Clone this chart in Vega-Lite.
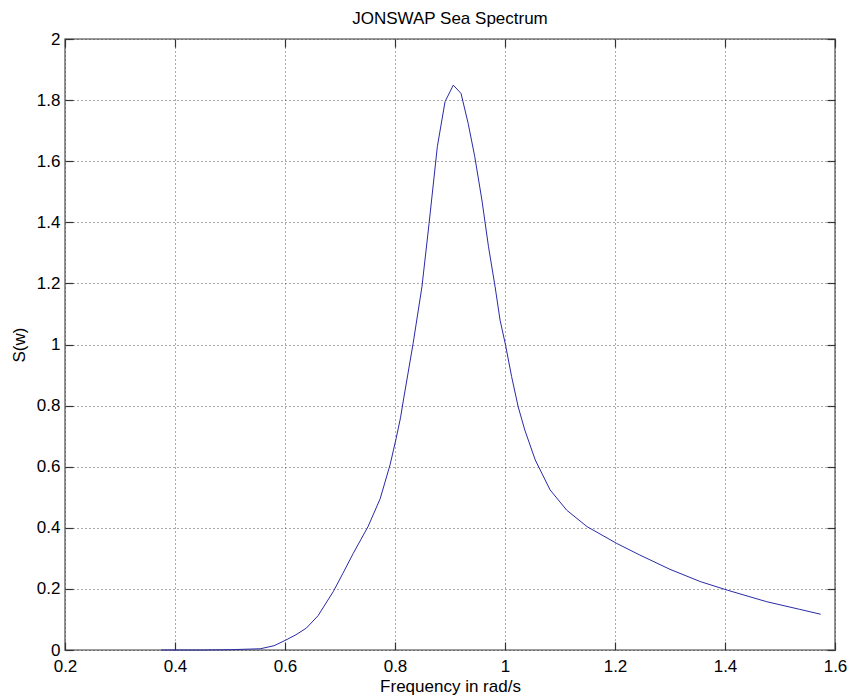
{
  "$schema": "https://vega.github.io/schema/vega-lite/v6.json",
  "width": 770,
  "height": 611,
  "autosize": {"type": "none"},
  "padding": {"left": 65, "top": 39, "right": 16, "bottom": 49},
  "background": "white",
  "title": {"text": "JONSWAP Sea Spectrum", "fontSize": 17, "fontWeight": "normal", "font": "Liberation Sans", "color": "#000", "baseline": "bottom", "offset": 10, "dy": 25, "anchor": "middle", "frame": "group"},
  "config": {
    "view": {"stroke": "#7a7a7a", "strokeWidth": 1.6},
    "axis": {"labelFont": "Liberation Sans", "titleFont": "Liberation Sans", "labelFontSize": 17, "titleFontSize": 17, "titleFontWeight": "normal", "labelColor": "#000", "titleColor": "#000", "domain": false, "tickColor": "#333", "tickSize": -8, "tickWidth": 1.2, "gridColor": "#444", "gridDash": [1, 3], "gridWidth": 1, "gridOpacity": 0.9, "format": "~g"}
  },
  "data": {"values": [
    {"w": 0.375, "S": 0.0},
    {"w": 0.45, "S": 0.0},
    {"w": 0.5, "S": 0.001},
    {"w": 0.555, "S": 0.004},
    {"w": 0.58, "S": 0.014},
    {"w": 0.601, "S": 0.032},
    {"w": 0.62, "S": 0.05},
    {"w": 0.639, "S": 0.072},
    {"w": 0.66, "S": 0.112},
    {"w": 0.688, "S": 0.192},
    {"w": 0.705, "S": 0.25},
    {"w": 0.724, "S": 0.316},
    {"w": 0.751, "S": 0.404},
    {"w": 0.773, "S": 0.495},
    {"w": 0.791, "S": 0.606},
    {"w": 0.802, "S": 0.692},
    {"w": 0.81, "S": 0.76},
    {"w": 0.815, "S": 0.815},
    {"w": 0.833, "S": 1.004},
    {"w": 0.849, "S": 1.189},
    {"w": 0.862, "S": 1.397},
    {"w": 0.877, "S": 1.648},
    {"w": 0.891, "S": 1.795},
    {"w": 0.906, "S": 1.849},
    {"w": 0.92, "S": 1.822},
    {"w": 0.933, "S": 1.724},
    {"w": 0.945, "S": 1.615},
    {"w": 0.958, "S": 1.473},
    {"w": 0.97, "S": 1.32},
    {"w": 0.982, "S": 1.189},
    {"w": 0.991, "S": 1.08},
    {"w": 1.001, "S": 0.998},
    {"w": 1.012, "S": 0.895},
    {"w": 1.024, "S": 0.796},
    {"w": 1.036, "S": 0.72},
    {"w": 1.055, "S": 0.622},
    {"w": 1.082, "S": 0.524},
    {"w": 1.112, "S": 0.458},
    {"w": 1.149, "S": 0.404},
    {"w": 1.203, "S": 0.349},
    {"w": 1.245, "S": 0.311},
    {"w": 1.3, "S": 0.264},
    {"w": 1.355, "S": 0.224},
    {"w": 1.404, "S": 0.196},
    {"w": 1.476, "S": 0.158},
    {"w": 1.536, "S": 0.133},
    {"w": 1.574, "S": 0.117}
  ]},
  "layer": [
    {
      "mark": {"type": "line", "color": "#2a2aa8", "strokeWidth": 1, "interpolate": "linear"},
      "encoding": {
        "x": {"field": "w", "type": "quantitative", "scale": {"domain": [0.2, 1.6], "nice": false, "zero": false},
              "axis": {"orient": "bottom", "title": "Frequency in rad/s", "values": [0.2, 0.4, 0.6, 0.8, 1, 1.2, 1.4, 1.6], "labelPadding": 16, "titlePadding": 4, "grid": true, "labelFlush": false}},
        "y": {"field": "S", "type": "quantitative", "scale": {"domain": [0, 2], "nice": false},
              "axis": {"orient": "left", "title": "S(w)", "values": [0, 0.2, 0.4, 0.6, 0.8, 1, 1.2, 1.4, 1.6, 1.8, 2], "labelPadding": 13, "titlePadding": 8, "grid": true, "labelFlush": false}}
      }
    },
    {
      "mark": {"type": "line", "strokeOpacity": 0},
      "encoding": {
        "x": {"field": "w", "type": "quantitative", "scale": {"domain": [0.2, 1.6], "nice": false, "zero": false},
              "axis": {"orient": "top", "title": null, "labels": false, "grid": false, "values": [0.2, 0.4, 0.6, 0.8, 1, 1.2, 1.4, 1.6]}},
        "y": {"field": "S", "type": "quantitative", "scale": {"domain": [0, 2], "nice": false},
              "axis": {"orient": "right", "title": null, "labels": false, "grid": false, "values": [0, 0.2, 0.4, 0.6, 0.8, 1, 1.2, 1.4, 1.6, 1.8, 2]}}
      }
    }
  ]
}
